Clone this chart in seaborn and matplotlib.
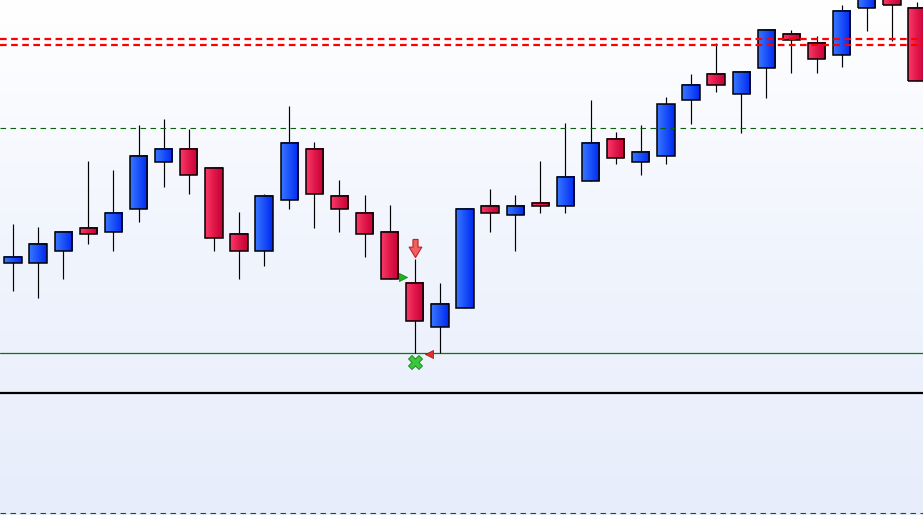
import numpy as np
import pandas as pd
import matplotlib
matplotlib.use("Agg")
import matplotlib.pyplot as plt
import seaborn as sns
from matplotlib.patches import Rectangle
from matplotlib.lines import Line2D
from matplotlib.colors import LinearSegmentedColormap

# ---- data ----
opens = [137.7, 137.7, 149.7, 172.7, 168.7, 191.7, 238.7, 251.7, 232.7, 166.7,
         149.7, 200.7, 251.7, 204.7, 187.7, 168.7, 117.7, 73.7, 92.7, 194.7,
         185.7, 197.7, 194.7, 219.7, 261.7, 238.7, 244.7, 299.7, 325.7, 305.7,
         331.7, 365.7, 356.7, 344.7, 391.7, 412.0, 391.7]
highs = [176.0, 173.0, 168.7, 239.0, 230.0, 275.0, 281.0, 271.0, 232.7, 188.0,
         206.7, 294.0, 258.0, 220.0, 205.0, 195.0, 141.0, 118.0, 191.7, 211.0,
         205.0, 239.0, 277.0, 300.0, 268.0, 275.0, 303.0, 326.0, 357.0, 327.7,
         369.7, 370.0, 364.0, 395.0, 415.0, 418.0, 398.0]
lows = [109.3, 102.3, 121.3, 156.3, 149.3, 178.3, 213.3, 206.3, 149.3, 121.3,
        134.3, 191.3, 172.3, 168.3, 143.3, 121.7, 47.7, 47.7, 92.7, 168.3,
        149.3, 187.3, 187.3, 219.7, 236.3, 225.7, 236.3, 276.3, 308.3, 267.3,
        302.3, 327.3, 327.3, 333.3, 369.3, 359.3, 318.7]
closes = [143.7, 156.7, 168.7, 166.7, 187.7, 244.7, 251.7, 225.7, 162.7, 149.7,
          204.7, 257.7, 206.7, 191.7, 166.7, 121.7, 79.7, 96.7, 191.7, 187.7,
          194.7, 194.7, 223.7, 257.7, 242.7, 248.7, 295.7, 314.7, 314.7, 327.7,
          369.7, 359.7, 340.7, 388.7, 410.0, 394.7, 318.7]

resistance_levels = [361.3, 355.3]
pivot_level = 272.7
support_level = 47.7
lower_pane_level = 0.0

signal_arrow = (16.02, 152.0)
buy_tri = (15.55, 123.5)
sell_tri = (16.55, 47.0)
clover = (16.02, 39.0)

df = pd.DataFrame({"open": opens, "high": highs, "low": lows, "close": closes})
df["idx"] = np.arange(len(df))

# ---- style ----
sns.set_style("white")
W, H = 923, 515
fig = plt.figure(figsize=(W / 100, H / 100), dpi=100)

# background gradient
bg = fig.add_axes([0, 0, 1, 1], zorder=0)
bg_cmap = LinearSegmentedColormap.from_list("bg", ["#ffffff", "#f0f4fd", "#e7edfb"])
grad = np.linspace(0, 1, 256).reshape(-1, 1)
bg.imshow(grad, aspect="auto", cmap=bg_cmap, extent=[0, 1, 0, 1], origin="upper")
bg.set_axis_off()

sep = 122.3 / H
ax = fig.add_axes([0, sep, 1, 1 - sep], zorder=1)
ax.patch.set_alpha(0)

xlim = (-0.518, 36.24)
ylim = (8, 400)

red_cmap = LinearSegmentedColormap.from_list("red", ["#fa3a68", "#e0184a", "#c60036"])
blue_cmap = LinearSegmentedColormap.from_list("blue", ["#3a78ff", "#1a50fa", "#0028ee"])
row = np.linspace(0, 1, 64).reshape(1, -1)

w = 0.693
ax.vlines(df["idx"], df["low"], df["high"], color="black", lw=0.85, zorder=2)
for _, r in df.iterrows():
    i = r["idx"]
    lo, hi = min(r["open"], r["close"]), max(r["open"], r["close"])
    cmap = blue_cmap if r["close"] >= r["open"] else red_cmap
    ax.imshow(row, cmap=cmap, extent=[i - w / 2, i + w / 2, lo, hi],
              aspect="auto", interpolation="bilinear", zorder=3)
    ax.add_patch(Rectangle((i - w / 2, lo), w, hi - lo, fill=False,
                           ec="black", lw=1.1, zorder=4))

# levels
for lv in resistance_levels:
    ax.axhline(lv, color="#ff0000", lw=1.6, ls=(0, (3, 2)), zorder=5)
ax.axhline(pivot_level, color="#0b5e0b", lw=0.8, ls=(0, (5, 4)), zorder=5)
ax.axhline(support_level, color="#008000", lw=0.9, zorder=1.5)

# signal markers
arrow_marker = [(-0.28, 1.0), (0.28, 1.0), (0.28, 0.15), (0.7, 0.15), (0.0, -1.0),
                (-0.7, 0.15), (-0.28, 0.15), (-0.28, 1.0)]
ax.scatter([signal_arrow[0]], [signal_arrow[1]], marker=arrow_marker, s=170,
           c="#f06060", edgecolors="#c02020", linewidths=0.8, zorder=6)
sns.scatterplot(x=[buy_tri[0]], y=[buy_tri[1]], marker=">", s=34, color="#20b020",
                edgecolor="#108010", linewidth=0.5, ax=ax, zorder=6, legend=False)
sns.scatterplot(x=[sell_tri[0]], y=[sell_tri[1]], marker="<", s=34, color="#e03030",
                edgecolor="#a01010", linewidth=0.5, ax=ax, zorder=6, legend=False)
sns.scatterplot(x=[clover[0]], y=[clover[1]], marker="X", s=100, color="#3cc83c",
                edgecolor="#1a8a1a", linewidth=0.7, ax=ax, zorder=6, legend=False)

ax.set_xlim(*xlim)
ax.set_ylim(*ylim)
ax.set_axis_off()

# lower pane
ax2 = fig.add_axes([0, 0, 1, sep], zorder=1)
ax2.patch.set_alpha(0)
ax2.axhline(lower_pane_level, color="#0b5e0b", lw=0.8, ls=(0, (5, 4)))
ax2.set_xlim(*xlim)
ax2.set_ylim(-1, 71)
ax2.set_axis_off()

fig.add_artist(Line2D([0, 1], [sep, sep], color="black", lw=1.6, zorder=10))

fig.savefig("out.png", dpi=100)
